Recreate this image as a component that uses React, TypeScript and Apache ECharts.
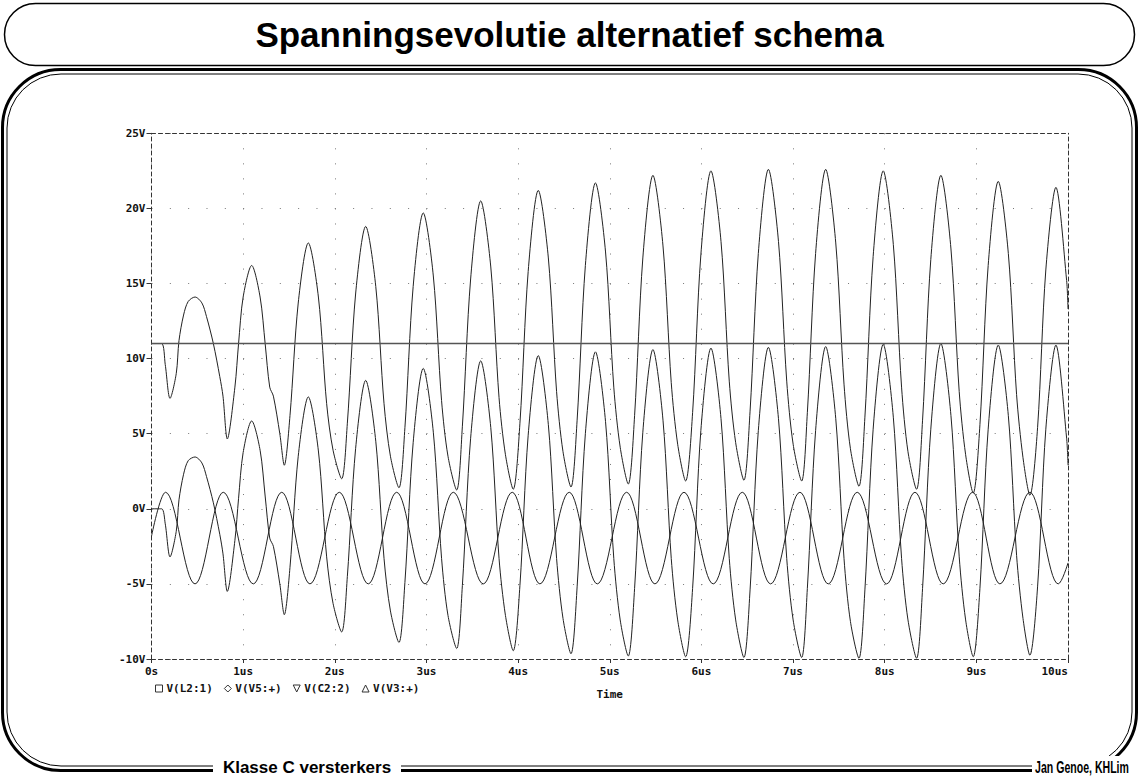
import React, { useEffect, useRef } from "react";
import * as echarts from "echarts";

type Pt = [number, number];

// ---- axis ticks ----
const xTickLabels = ["0s", "1us", "2us", "3us", "4us", "5us", "6us", "7us", "8us", "9us", "10us"];
const yTickValues = [-10, -5, 0, 5, 10, 15, 20, 25];

// ---- legend ----
const seriesNames = ["V(L2:1)", "V(V5:+)", "V(C2:2)", "V(V3:+)"];

// ---- traces (time in us, voltage in V) ----
const collectorL2: Pt[] = [
  [0, 11], [0.11, 11], [0.15, 9.6], [0.202, 7.35],
  [0.27, 9.0], [0.30, 11.2], [0.35, 12.9], [0.40, 13.8], [0.475, 14.1], [0.55, 13.7], [0.60, 12.8], [0.675, 11.0], [0.745, 8.8], [0.78, 7.5], [0.827, 4.65],
  [0.91, 8.1], [0.95, 11.0], [1.0, 14.1], [1.093, 16.2], [1.185, 14.1], [1.24, 11.0], [1.29, 8.1], [1.33, 7.5], [1.40, 5.0], [1.449, 2.9],
  [1.511, 6.2], [1.601, 13.7], [1.711, 17.7], [1.821, 14.1], [1.911, 7.0], [1.981, 3.9], [2.075, 2.0],
  [2.137, 5.7], [2.227, 14.3], [2.337, 18.8], [2.447, 14.8], [2.537, 7.0], [2.607, 3.5], [2.700, 1.4],
  [2.765, 5.4], [2.855, 14.8], [2.965, 19.7], [3.075, 15.5], [3.165, 7.2], [3.235, 3.5], [3.330, 1.25],
  [3.392, 5.5], [3.482, 15.3], [3.592, 20.5], [3.702, 16.1], [3.792, 7.4], [3.862, 3.6], [3.947, 1.3],
  [4.020, 5.7], [4.110, 15.8], [4.220, 21.2], [4.330, 16.7], [4.420, 7.8], [4.490, 3.8], [4.577, 1.45],
  [4.644, 5.9], [4.734, 16.2], [4.844, 21.7], [4.954, 17.1], [5.044, 8.1], [5.114, 4.1], [5.202, 1.65],
  [5.271, 6.2], [5.361, 16.7], [5.471, 22.2], [5.581, 17.5], [5.671, 8.4], [5.741, 4.3], [5.828, 1.85],
  [5.904, 6.4], [5.994, 16.9], [6.104, 22.5], [6.214, 17.8], [6.304, 8.5], [6.374, 4.4], [6.464, 1.9],
  [6.531, 6.5], [6.621, 17.0], [6.731, 22.6], [6.841, 17.8], [6.931, 8.5], [7.001, 4.3], [7.094, 1.85],
  [7.156, 6.4], [7.246, 17.0], [7.356, 22.6], [7.466, 17.7], [7.556, 8.3], [7.626, 4.0], [7.719, 1.5],
  [7.784, 6.1], [7.874, 16.8], [7.984, 22.5], [8.094, 17.6], [8.184, 8.1], [8.254, 3.8], [8.348, 1.3],
  [8.413, 5.9], [8.503, 16.6], [8.613, 22.2], [8.723, 17.3], [8.813, 7.8], [8.883, 3.6], [8.966, 1.05],
  [9.039, 5.6], [9.129, 16.2], [9.239, 21.8], [9.349, 17.0], [9.439, 7.6], [9.509, 3.4], [9.584, 0.9],
  [9.668, 5.4], [9.758, 15.9], [9.868, 21.4], [9.985, 15.2], [10.0, 13.3],
];

const sourceV5: Pt[] = [
  [0, -1.83], [0.153, 1.1], [0.475, -5.0], [0.783, 1.1], [1.111, -5.0], [1.421, 1.1], [1.729, -5.0],
  [2.049, 1.1], [2.365, -5.0], [2.675, 1.1], [2.984, -5.0], [3.293, 1.1], [3.620, -5.0], [3.936, 1.1],
  [4.238, -5.0], [4.558, 1.1], [4.864, -5.0], [5.184, 1.1], [5.493, -5.0], [5.810, 1.1], [6.129, -5.0],
  [6.446, 1.1], [6.755, -5.0], [7.075, 1.1], [7.384, -5.0], [7.700, 1.1], [8.021, -5.0], [8.330, 1.1],
  [8.638, -5.0], [8.959, 1.1], [9.257, -5.0], [9.584, 1.1], [9.893, -5.0], [10.0, -3.6],
];

const outputC2: Pt[] = [
  [0, 0], [0.11, 0], [0.15, -1.0], [0.202, -3.2],
  [0.27, -1.5], [0.30, 0.6], [0.35, 2.3], [0.40, 3.2], [0.475, 3.45], [0.55, 3.05], [0.60, 2.15], [0.675, 0.4], [0.745, -1.7], [0.78, -3.0], [0.827, -5.5],
  [0.91, -2.1], [0.95, 0.7], [1.0, 3.75], [1.093, 5.85], [1.185, 3.9], [1.24, 0.85], [1.29, -1.95], [1.33, -2.5], [1.40, -5.0], [1.449, -7.05],
  [1.511, -3.9], [1.601, 3.5], [1.711, 7.45], [1.821, 3.85], [1.911, -3.2], [1.981, -6.3], [2.075, -8.2],
  [2.137, -4.5], [2.227, 4.0], [2.337, 8.55], [2.447, 4.5], [2.537, -3.3], [2.607, -6.8], [2.700, -8.9],
  [2.765, -4.9], [2.855, 4.4], [2.965, 9.35], [3.075, 5.1], [3.165, -3.3], [3.235, -7.1], [3.330, -9.3],
  [3.392, -5.1], [3.482, 4.7], [3.592, 9.85], [3.702, 5.4], [3.792, -3.3], [3.862, -7.1], [3.947, -9.45],
  [4.020, -5.1], [4.110, 4.9], [4.220, 10.2], [4.330, 5.6], [4.420, -3.3], [4.490, -7.3], [4.577, -9.65],
  [4.644, -5.2], [4.734, 5.0], [4.844, 10.45], [4.954, 5.8], [5.044, -3.3], [5.114, -7.4], [5.202, -9.8],
  [5.271, -5.3], [5.361, 5.1], [5.471, 10.6], [5.581, 5.9], [5.671, -3.3], [5.741, -7.4], [5.828, -9.85],
  [5.904, -5.3], [5.994, 5.2], [6.104, 10.7], [6.214, 6.0], [6.304, -3.3], [6.374, -7.4], [6.464, -9.9],
  [6.531, -5.4], [6.621, 5.2], [6.731, 10.75], [6.841, 6.0], [6.931, -3.3], [7.001, -7.4], [7.094, -9.9],
  [7.156, -5.3], [7.246, 5.2], [7.356, 10.8], [7.466, 6.0], [7.556, -3.3], [7.626, -7.5], [7.719, -9.95],
  [7.784, -5.4], [7.874, 5.3], [7.984, 10.95], [8.094, 6.1], [8.184, -3.3], [8.254, -7.4], [8.348, -9.95],
  [8.413, -5.3], [8.503, 5.3], [8.613, 11.0], [8.723, 6.2], [8.813, -3.2], [8.883, -7.4], [8.966, -9.85],
  [9.039, -5.3], [9.129, 5.3], [9.239, 10.9], [9.349, 6.2], [9.439, -3.1], [9.509, -7.3], [9.584, -9.75],
  [9.668, -5.2], [9.758, 5.3], [9.868, 10.9], [9.985, 4.7], [10.0, 2.9],
];

const supplyV3: Pt[] = [[0, 11], [10, 11]];

const MONO = '"DejaVu Sans Mono", monospace';
const SANS = '"Liberation Sans", Arial, sans-serif';
const TRACE = "#222";

export default function App() {
  const ref = useRef<HTMLDivElement>(null);

  useEffect(() => {
    if (!ref.current) return;
    const chart = echarts.init(ref.current, undefined, { renderer: "svg" });

    const dashed = { color: "#333", width: 1, type: [4, 3] as number[] };
    const labelFont = { fontFamily: MONO, fontSize: 11, fontWeight: "bold" as const, color: "#111" };

    const hollow = { color: "transparent", borderColor: "#333", borderWidth: 1 };

    const option: any = {
      animation: false,
      backgroundColor: "#ffffff",
      grid: { left: 151.5, right: 71, top: 133.3, bottom: 117, containLabel: false },
      legend: {
        left: 150,
        top: 678,
        itemGap: 11,
        itemWidth: 7,
        itemHeight: 7,
        selectedMode: false,
        textStyle: { ...labelFont, padding: [0, 0, 0, -1] },
        data: [
          { name: seriesNames[0], icon: "rect", itemStyle: hollow },
          { name: seriesNames[1], icon: "diamond", itemStyle: hollow },
          { name: seriesNames[2], icon: "path://M0,0L10,0L5,10Z", itemStyle: hollow },
          { name: seriesNames[3], icon: "triangle", itemStyle: hollow },
        ],
      },
      xAxis: [
        {
          type: "value",
          min: 0,
          max: 10,
          interval: 1,
          position: "bottom",
          name: "Time",
          nameLocation: "middle",
          nameGap: 30,
          nameTextStyle: labelFont,
          axisLine: { show: true, onZero: false, lineStyle: dashed },
          axisTick: { show: true, length: 4, lineStyle: { color: "#333" } },
          axisLabel: {
            ...labelFont,
            margin: 7,
            alignMaxLabel: "right",
            formatter: (v: number) => xTickLabels[Math.round(v)] ?? "",
          },
          splitLine: { show: true, lineStyle: { color: "#777", width: 1, type: [1, 14.03] } },
        },
        {
          type: "value",
          min: 0,
          max: 10,
          interval: 1,
          position: "top",
          axisLine: { show: true, onZero: false, lineStyle: dashed },
          axisTick: { show: false },
          axisLabel: { show: false },
          splitLine: { show: false },
        },
      ],
      yAxis: [
        {
          type: "value",
          min: yTickValues[0],
          max: yTickValues[yTickValues.length - 1],
          interval: 5,
          position: "left",
          axisLine: { show: true, onZero: false, lineStyle: dashed },
          axisTick: { show: true, length: 5, lineStyle: { color: "#333" } },
          axisLabel: { ...labelFont, margin: 6, formatter: (v: number) => `${v}V` },
          splitLine: { show: true, lineStyle: { color: "#777", width: 1, type: [1, 17.33] } },
        },
        {
          type: "value",
          min: yTickValues[0],
          max: yTickValues[yTickValues.length - 1],
          interval: 5,
          position: "right",
          axisLine: { show: true, onZero: false, lineStyle: dashed },
          axisTick: { show: false },
          axisLabel: { show: false },
          splitLine: { show: false },
        },
      ],
      series: [
        {
          name: seriesNames[0],
          type: "line",
          data: collectorL2,
          smooth: 0.3,
          symbol: "none",
          clip: true,
          lineStyle: { color: TRACE, width: 1 },
          itemStyle: { color: TRACE },
        },
        {
          name: seriesNames[1],
          type: "line",
          data: sourceV5,
          smooth: 0.364,
          smoothMonotone: "x",
          symbol: "none",
          clip: true,
          lineStyle: { color: TRACE, width: 1 },
          itemStyle: { color: TRACE },
        },
        {
          name: seriesNames[2],
          type: "line",
          data: outputC2,
          smooth: 0.3,
          symbol: "none",
          clip: true,
          lineStyle: { color: TRACE, width: 1 },
          itemStyle: { color: TRACE },
        },
        {
          name: seriesNames[3],
          type: "line",
          data: supplyV3,
          symbol: "none",
          clip: true,
          lineStyle: { color: "#555", width: 1.5 },
          itemStyle: { color: TRACE },
        },
      ],
      graphic: [
        {
          type: "rect",
          silent: true,
          shape: { x: 4.5, y: 3.5, width: 1130, height: 62, r: 31 },
          style: { fill: "none", stroke: "#000", lineWidth: 1.5 },
        },
        {
          type: "text",
          silent: true,
          x: 569.5,
          y: 34,
          style: {
            text: "Spanningsevolutie alternatief schema",
            font: `bold 35px ${SANS}`,
            fill: "#000",
            align: "center",
            verticalAlign: "middle",
            textAlign: "center",
            textVerticalAlign: "middle",
          },
        },
        {
          type: "rect",
          silent: true,
          shape: { x: 2.5, y: 69.5, width: 1134, height: 701, r: 58 },
          style: { fill: "none", stroke: "#000", lineWidth: 3 },
        },
        {
          type: "rect",
          silent: true,
          shape: { x: 7, y: 74, width: 1125, height: 692, r: 54 },
          style: { fill: "none", stroke: "#000", lineWidth: 1 },
        },
        {
          type: "rect",
          silent: true,
          shape: { x: 213, y: 756, width: 188, height: 20 },
          style: { fill: "#fff" },
        },
        {
          type: "text",
          silent: true,
          x: 307,
          y: 767,
          style: {
            text: "Klasse C versterkers",
            font: `bold 17px ${SANS}`,
            fill: "#000",
            align: "center",
            verticalAlign: "middle",
            textAlign: "center",
            textVerticalAlign: "middle",
          },
        },
        {
          type: "rect",
          silent: true,
          shape: { x: 1032, y: 756, width: 100, height: 20 },
          style: { fill: "#fff" },
        },
        {
          type: "text",
          silent: true,
          x: 1082,
          y: 768,
          scaleX: 0.66,
          style: {
            text: "Jan Genoe, KHLim",
            font: `bold 16px ${SANS}`,
            fill: "#000",
            align: "center",
            verticalAlign: "middle",
            textAlign: "center",
            textVerticalAlign: "middle",
          },
        },
      ],
    };

    chart.setOption(option);
    return () => chart.dispose();
  }, []);

  return (
    <div
      ref={ref}
      style={{ position: "absolute", left: 0, top: 0, width: 1139, height: 776, background: "#fff" }}
    />
  );
}
